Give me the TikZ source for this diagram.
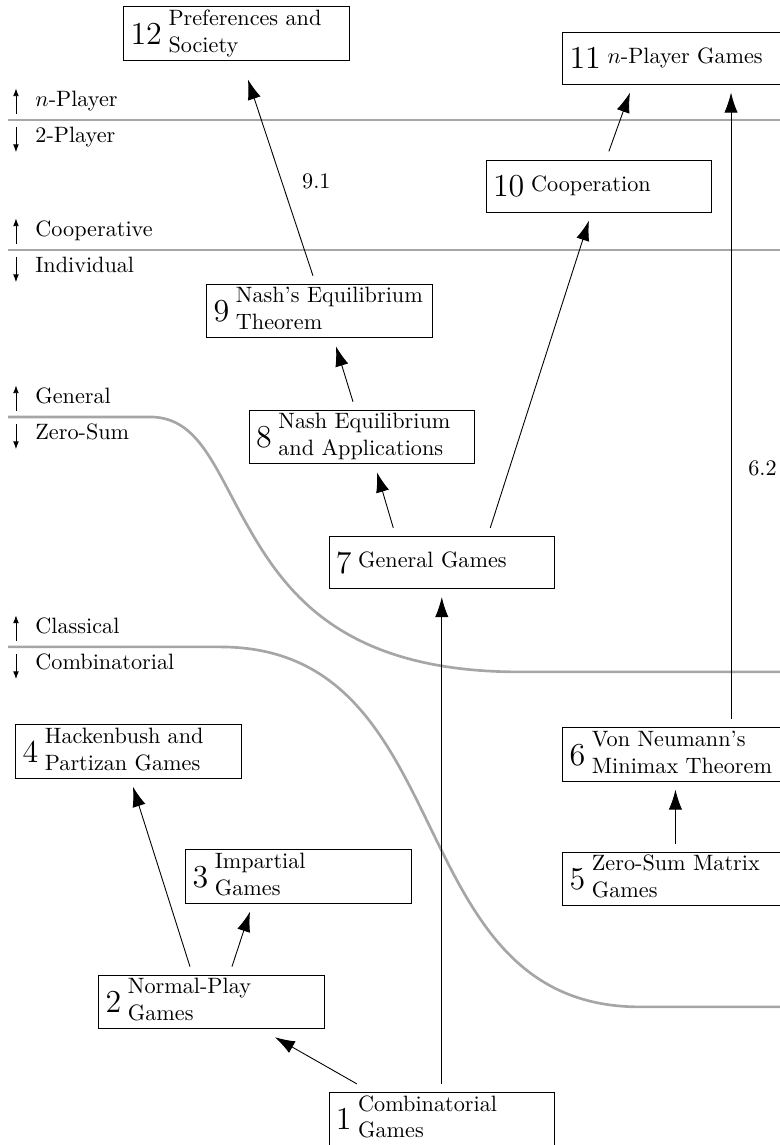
\documentclass[tikz,border=0pt]{standalone}
\usepackage{tikz}
\usetikzlibrary{arrows.meta}
\usepackage{amssymb}
\usepackage{amsmath}

\newcommand{\chap}[2]{\raisebox{-2.3pt}{\Large #1}\hspace{3pt}\begin{tabular}{@{}l@{}}#2\end{tabular}}

\begin{document}
\begin{tikzpicture}[%
>={Latex[length=9pt,width=6pt]},
chapter/.style={draw, thin, text width=95.4pt, inner xsep=3pt, inner ysep=0pt, minimum height=23.4pt, align=left},
dep/.style={->, thin},
border/.style={line width=1.2pt, draw=black!35},
side/.style={-{Latex[length=3.5pt,width=2.6pt]}, thin},
field/.style={anchor=base west, inner sep=0pt},
]

\useasboundingbox (0,0) rectangle (12.35,-18.13);

\pgfmathsetmacro{\arrgap}{0.13}

\coordinate (pl) at (0.127,-1.900);
\draw[border] (pl) -- ++(12.4,0);
\node(np)[field] at ([shift={(0.427,0.206)}]pl){$n$-Player};
\node(tp)[field] at ([shift={(0.427,-0.364)}]pl){2-Player};
\draw[side] ([shift={(0.126,0.1)}]pl) -- ([shift={(0.126,0.5)}]pl);
\draw[side] ([shift={(0.126,-0.11)}]pl) -- ([shift={(0.126,-0.51)}]pl);

\coordinate (co) at (0.127,-3.958);
\draw[border] (co) -- ++(12.4,0);
\node(coop)[field] at ([shift={(0.427,0.206)}]co){Cooperative};
\node(indi)[field] at ([shift={(0.427,-0.364)}]co){Individual};
\draw[side] ([shift={(0.126,0.1)}]co) -- ([shift={(0.126,0.5)}]co);
\draw[side] ([shift={(0.126,-0.11)}]co) -- ([shift={(0.126,-0.51)}]co);

\coordinate (gz) at (0.127,-6.602);
\draw[border] (gz) -- (2.375,-6.602) .. controls (3.166,-6.602) and (3.404,-7.441) .. (3.958,-8.391)
  .. controls (4.591,-9.499) and (5.541,-10.639) .. (8.233,-10.639) -- (12.6,-10.639);
\node(gen)[field] at ([shift={(0.427,0.206)}]gz){General};
\node(zs)[field] at ([shift={(0.427,-0.364)}]gz){Zero-Sum};
\draw[side] ([shift={(0.126,0.1)}]gz) -- ([shift={(0.126,0.5)}]gz);
\draw[side] ([shift={(0.126,-0.11)}]gz) -- ([shift={(0.126,-0.51)}]gz);

\coordinate (cc) at (0.127,-10.243);
\draw[border] (cc) -- (3.483,-10.243) .. controls (7.362,-10.243) and (6.254,-15.943) .. (10.133,-15.943) -- (12.6,-15.943);
\node(clas)[field] at ([shift={(0.427,0.206)}]cc){Classical};
\node(comb)[field] at ([shift={(0.427,-0.364)}]cc){Combinatorial};
\draw[side] ([shift={(0.126,0.1)}]cc) -- ([shift={(0.126,0.5)}]cc);
\draw[side] ([shift={(0.126,-0.11)}]cc) -- ([shift={(0.126,-0.51)}]cc);

\node(c1)[chapter] at (6.995,-17.72){\chap{1}{Combinatorial\\Games}};
\node(c2)[chapter] at (3.348,-15.864){\chap{2}{Normal-Play\\Games}};
\node(c3)[chapter] at (4.726,-13.877){\chap{3}{Impartial\\Games}};
\node(c4)[chapter] at (2.034,-11.898){\chap{4}{Hackenbush and\\Partizan Games}};
\node(c5)[chapter] at (10.695,-13.917){\chap{5}{Zero-Sum Matrix\\Games}};
\node(c6)[chapter] at (10.695,-11.945){\chap{6}{Von Neumann's\\Minimax Theorem}};
\node(c7)[chapter] at (6.995,-8.906){\chap{7}{General Games}};
\node(c8)[chapter] at (5.731,-6.919){\chap{8}{Nash Equilibrium\\and Applications}};
\node(c9)[chapter] at (5.058,-4.924){\chap{9}{Nash's Equilibrium\\Theorem}};
\node(c10)[chapter] at (9.483,-2.945){\chap{10}{Cooperation}};
\node(c11)[chapter] at (10.695,-0.918){\chap{11}{$n$-Player Games}};
\node(c12)[chapter] at (3.744,-0.530){\chap{12}{Preferences and\\Society}};

\draw[dep] ([shift={(-1.346,\arrgap)}]c1.north) -- ([shift={(1.005,-\arrgap)}]c2.south);
\draw[dep] ([yshift=\arrgap cm]c1.north) -- ([yshift=-\arrgap cm]c7.south);
\draw[dep] ([shift={(-0.340,\arrgap)}]c2.north) -- ([shift={(0.071,-\arrgap)}]c4.south);
\draw[dep] ([shift={(0.325,\arrgap)}]c2.north) -- ([shift={(-0.768,-\arrgap)}]c3.south);
\draw[dep] ([yshift=\arrgap cm]c5.north) -- ([yshift=-\arrgap cm]c6.south);
\draw[dep] ([shift={(0.88,\arrgap)}]c6.north) -- ([shift={(0.88,-\arrgap)}]c11.south)
  node(l62)[pos=0.4, right=1.5mm]{6.2};
\draw[dep] ([shift={(-0.768,\arrgap)}]c7.north) -- ([shift={(0.237,-\arrgap)}]c8.south);
\draw[dep] ([shift={(0.768,\arrgap)}]c7.north) -- ([shift={(-0.158,-\arrgap)}]c10.south);
\draw[dep] ([shift={(-0.142,\arrgap)}]c8.north) -- ([shift={(0.261,-\arrgap)}]c9.south);
\draw[dep] ([shift={(-0.103,\arrgap)}]c9.north) -- ([shift={(0.182,-0.30)}]c12.south)
  node(l91)[pos=0.48, right=2mm]{9.1};
\draw[dep] ([shift={(0.158,\arrgap)}]c10.north) -- ([shift={(-0.72,-\arrgap)}]c11.south);

\end{tikzpicture}
\end{document}
